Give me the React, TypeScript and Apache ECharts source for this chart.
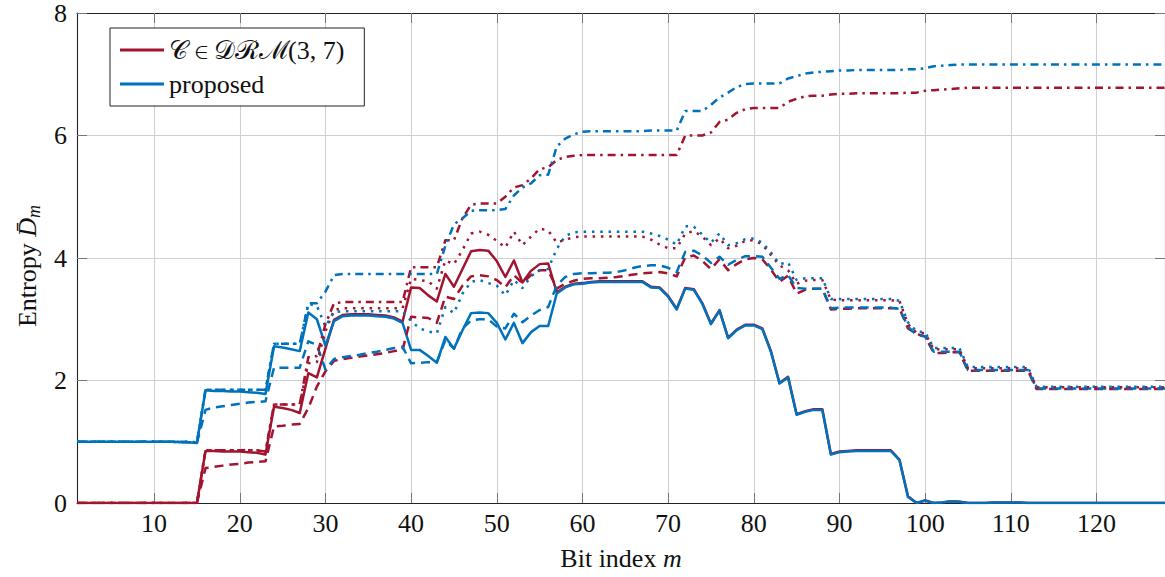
import React, { useEffect, useRef } from "react";
import * as echarts from "echarts";

// Bit index m = 1..128
const bitIndex: number[] = Array.from({ length: 128 }, (_, i) => i + 1);
const xTickValues = [10, 20, 30, 40, 50, 60, 70, 80, 90, 100, 110, 120];
const yMin = 0;
const yMax = 8;
const yStep = 2;

const RED_NAME = "𝒞 ∈ 𝒟ℛℳ(3, 7)";
const BLUE_NAME = "proposed";

// red solid
const redSolid = [
  0, 0, 0, 0, 0, 0, 0, 0, 0, 0, 0, 0, 0, 0, 0,
  0.85, 0.85, 0.84, 0.84, 0.84, 0.83, 0.82, 0.79,
  1.57, 1.55, 1.52, 1.47,
  2.12, 2.05, 2.52, 2.99,
  3.07, 3.08, 3.08, 3.08, 3.07, 3.06, 3.03, 2.96,
  3.52, 3.51, 3.39, 3.29,
  3.74, 3.53, 3.82, 4.11, 4.13, 4.12, 3.95,
  3.69, 3.96, 3.60, 3.79, 3.90, 3.91,
  3.44, 3.53, 3.58, 3.59, 3.61,
  3.62, 3.62, 3.62, 3.62, 3.62, 3.62,
  3.53, 3.52, 3.38, 3.17, 3.51, 3.49, 3.26, 2.93, 3.15, 2.70, 2.83, 2.91, 2.91, 2.85, 2.48, 1.96, 2.06, 1.45, 1.50, 1.53, 1.53, 0.80, 0.84, 0.85,
  0.86, 0.86, 0.86, 0.86, 0.86,
  0.71, 0.11, 0.0, 0.04, 0.0, 0.01, 0.03, 0.02, 0.0, 0.0, 0.0, 0.01, 0.01, 0.01, 0.01, 0.0,
  0, 0, 0, 0, 0, 0, 0, 0, 0, 0, 0, 0, 0, 0, 0, 0,
];

// blue solid (proposed)
const blueSolid = [
  1.0, 1.0, 1.0, 1.0, 1.0, 1.0, 1.0, 1.0, 1.0, 1.0, 1.0, 1.0, 0.99, 0.99, 0.98,
  1.84, 1.83, 1.83, 1.82, 1.82, 1.81, 1.80, 1.78,
  2.56, 2.54, 2.51, 2.48,
  3.11, 3.0, 2.57, 2.97,
  3.05, 3.06, 3.06, 3.06, 3.05, 3.04, 3.01, 2.94,
  2.50, 2.50, 2.40, 2.29,
  2.71, 2.52, 2.82, 3.10, 3.11, 3.10, 2.94,
  2.67, 2.94, 2.61, 2.79, 2.89, 2.89,
  3.42, 3.52, 3.57, 3.58, 3.60,
  3.61, 3.61, 3.61, 3.61, 3.61, 3.61,
  3.52, 3.51, 3.37, 3.16, 3.50, 3.48, 3.25, 2.92, 3.14, 2.69, 2.82, 2.90, 2.90, 2.84, 2.47, 1.95, 2.05, 1.44, 1.49, 1.52, 1.52, 0.79, 0.83, 0.84,
  0.85, 0.85, 0.85, 0.85, 0.85,
  0.70, 0.10, 0.0, 0.04, 0.0, 0.01, 0.03, 0.02, 0.0, 0.0, 0.0, 0.01, 0.01, 0.01, 0.01, 0.0,
  0, 0, 0, 0, 0, 0, 0, 0, 0, 0, 0, 0, 0, 0, 0, 0,
];

// red dashed
const redDashed = [
  0, 0, 0, 0, 0, 0, 0, 0, 0, 0, 0, 0, 0, 0, 0,
  0.57, 0.59, 0.61, 0.63, 0.64, 0.66, 0.67, 0.68,
  1.25, 1.26, 1.28, 1.29,
  1.55, 1.90, 2.15, 2.32,
  2.35, 2.37, 2.39, 2.41, 2.43, 2.45, 2.48, 2.50,
  3.04, 3.03, 3.02, 2.94,
  3.37, 3.33, 3.55, 3.70, 3.72, 3.70, 3.64,
  3.52, 3.72, 3.59, 3.72, 3.80, 3.80,
  3.50, 3.58, 3.63, 3.66, 3.67,
  3.67, 3.68, 3.69, 3.71, 3.73, 3.75,
  3.76, 3.77, 3.75, 3.70, 4.01, 4.04, 3.95, 3.82, 3.98, 3.80, 3.90, 3.98, 4.00, 3.98, 3.81, 3.61, 3.71, 3.42, 3.48, 3.50, 3.50, 3.16, 3.17, 3.17,
  3.18, 3.18, 3.18, 3.18, 3.18,
  3.18, 2.85, 2.76, 2.72, 2.45, 2.45, 2.46, 2.46, 2.16, 2.16, 2.16, 2.16, 2.16, 2.16, 2.16, 2.16,
  1.86, 1.86, 1.86, 1.86, 1.86, 1.86, 1.86, 1.86, 1.86, 1.86, 1.86, 1.86, 1.86, 1.86, 1.86, 1.86,
];

// blue dashed
const blueDashed = [
  1.0, 1.0, 1.0, 1.0, 1.0, 1.0, 1.0, 1.0, 1.0, 1.0, 1.0, 1.0, 0.99, 0.99, 0.98,
  1.52, 1.56, 1.58, 1.60, 1.62, 1.64, 1.65, 1.66,
  2.21, 2.21, 2.21, 2.21,
  2.64, 2.58, 2.18, 2.35,
  2.38, 2.40, 2.42, 2.45, 2.47, 2.50, 2.53, 2.55,
  2.28, 2.29, 2.30, 2.30,
  2.66, 2.52, 2.85, 2.98, 3.00, 3.00, 2.88,
  2.85, 3.09, 2.95, 3.06, 3.15, 3.20,
  3.55, 3.69, 3.74, 3.75, 3.75,
  3.76, 3.76, 3.77, 3.80, 3.84, 3.87,
  3.88, 3.88, 3.84, 3.77, 4.10, 4.12, 4.04, 3.92, 4.02, 3.89, 3.97, 4.03, 4.03, 4.02, 3.84, 3.66, 3.72, 3.51, 3.50, 3.50, 3.50, 3.18, 3.19, 3.19,
  3.19, 3.19, 3.19, 3.19, 3.19,
  3.17, 2.88, 2.74, 2.72, 2.47, 2.47, 2.47, 2.47, 2.17, 2.17, 2.17, 2.17, 2.17, 2.17, 2.17, 2.17,
  1.87, 1.87, 1.87, 1.87, 1.87, 1.87, 1.87, 1.87, 1.87, 1.87, 1.87, 1.87, 1.87, 1.87, 1.87, 1.87,
];

// red dotted
const redDotted = [
  0, 0, 0, 0, 0, 0, 0, 0, 0, 0, 0, 0, 0, 0, 0,
  0.86, 0.86, 0.86, 0.86, 0.86, 0.86, 0.86, 0.84,
  1.61, 1.61, 1.61, 1.61,
  2.28, 2.30, 2.80, 3.15,
  3.18, 3.18, 3.18, 3.18, 3.18, 3.18, 3.18, 3.18,
  3.66, 3.64, 3.62, 3.50,
  3.96, 3.90, 4.13, 4.40, 4.43, 4.38, 4.28,
  4.17, 4.43, 4.21, 4.35, 4.48, 4.45,
  4.25, 4.30, 4.34, 4.35, 4.35,
  4.35, 4.35, 4.35, 4.35, 4.35, 4.35,
  4.30, 4.22, 4.16, 4.16, 4.40, 4.44, 4.35, 4.21, 4.32, 4.16, 4.20, 4.28, 4.29, 4.22, 4.05, 3.88, 3.80, 3.58, 3.63, 3.64, 3.64, 3.32, 3.31, 3.31,
  3.31, 3.31, 3.31, 3.31, 3.31,
  3.30, 2.92, 2.78, 2.77, 2.51, 2.51, 2.51, 2.51, 2.20, 2.20, 2.20, 2.20, 2.20, 2.20, 2.20, 2.20,
  1.89, 1.89, 1.89, 1.89, 1.89, 1.89, 1.89, 1.89, 1.89, 1.89, 1.89, 1.89, 1.89, 1.89, 1.89, 1.89,
];

// blue dotted
const blueDotted = [
  1.0, 1.0, 1.0, 1.0, 1.0, 1.0, 1.0, 1.0, 1.0, 1.0, 1.0, 1.0, 1.0, 1.0, 0.99,
  1.85, 1.85, 1.85, 1.85, 1.85, 1.85, 1.85, 1.85,
  2.60, 2.60, 2.60, 2.60,
  3.25, 3.22, 2.88, 3.12,
  3.13, 3.13, 3.13, 3.13, 3.13, 3.13, 3.13, 3.13,
  2.97, 2.85, 2.80, 2.77,
  3.20, 3.10, 3.42, 3.61, 3.64, 3.59, 3.55,
  3.39, 3.64, 3.51, 3.70, 3.80, 3.82,
  4.15, 4.36, 4.42, 4.43, 4.43,
  4.43, 4.43, 4.43, 4.43, 4.43, 4.43,
  4.40, 4.36, 4.30, 4.22, 4.52, 4.51, 4.38, 4.25, 4.40, 4.21, 4.24, 4.31, 4.32, 4.25, 4.09, 3.90, 3.93, 3.64, 3.67, 3.67, 3.67, 3.33, 3.33, 3.33,
  3.33, 3.33, 3.33, 3.33, 3.33,
  3.30, 2.95, 2.80, 2.79, 2.53, 2.53, 2.53, 2.53, 2.22, 2.22, 2.22, 2.22, 2.22, 2.22, 2.22, 2.22,
  1.90, 1.90, 1.90, 1.90, 1.90, 1.90, 1.90, 1.90, 1.90, 1.90, 1.90, 1.90, 1.90, 1.90, 1.90, 1.90,
];

// red dash-dotted
const redDashDot = [
  0, 0, 0, 0, 0, 0, 0, 0, 0, 0, 0, 0, 0, 0, 0,
  0.86, 0.86, 0.86, 0.86, 0.86, 0.86, 0.86, 0.84,
  1.61, 1.61, 1.61, 1.61,
  2.38, 2.40, 2.92, 3.26,
  3.28, 3.28, 3.28, 3.28, 3.28, 3.28, 3.28, 3.28,
  3.85, 3.85, 3.85, 3.85,
  4.29, 4.29, 4.65, 4.87, 4.89, 4.89, 4.89,
  5.00, 5.15, 5.19, 5.30, 5.45, 5.48,
  5.60, 5.65, 5.67, 5.68, 5.68,
  5.68, 5.68, 5.68, 5.68, 5.68, 5.68,
  5.68, 5.68, 5.68, 5.68, 6.00, 6.00, 6.00, 6.05, 6.22, 6.26, 6.37, 6.43, 6.45, 6.45, 6.45, 6.45, 6.55, 6.60, 6.64, 6.65, 6.65, 6.67, 6.68, 6.68,
  6.69, 6.69, 6.69, 6.69, 6.69,
  6.69, 6.70, 6.70, 6.73, 6.74, 6.75, 6.76, 6.77, 6.78, 6.78, 6.78, 6.78, 6.78, 6.78, 6.78, 6.78,
  6.78, 6.78, 6.78, 6.78, 6.78, 6.78, 6.78, 6.78, 6.78, 6.78, 6.78, 6.78, 6.78, 6.78, 6.78, 6.78,
];

// blue dash-dotted
const blueDashDot = [
  1.0, 1.0, 1.0, 1.0, 1.0, 1.0, 1.0, 1.0, 1.0, 1.0, 1.0, 1.0, 1.0, 1.0, 0.99,
  1.85, 1.85, 1.85, 1.85, 1.85, 1.85, 1.85, 1.85,
  2.60, 2.60, 2.60, 2.60,
  3.26, 3.26, 3.45, 3.72,
  3.74, 3.74, 3.74, 3.74, 3.74, 3.74, 3.74, 3.74,
  3.74, 3.74, 3.74, 3.74,
  4.20, 4.55, 4.65, 4.77, 4.78, 4.78, 4.78,
  4.80, 5.02, 5.15, 5.22, 5.35, 5.36,
  5.82, 5.95, 6.02, 6.06, 6.07,
  6.07, 6.07, 6.07, 6.07, 6.07, 6.07,
  6.08, 6.08, 6.08, 6.08, 6.40, 6.40, 6.40, 6.50, 6.62, 6.70, 6.79, 6.84, 6.85, 6.85, 6.85, 6.85, 6.93, 6.97, 7.01, 7.03, 7.04, 7.05, 7.06, 7.06,
  7.07, 7.07, 7.07, 7.07, 7.07,
  7.07, 7.08, 7.08, 7.10, 7.13, 7.14, 7.15, 7.16, 7.16, 7.16, 7.16, 7.16, 7.16, 7.16, 7.16, 7.16,
  7.16, 7.16, 7.16, 7.16, 7.16, 7.16, 7.16, 7.16, 7.16, 7.16, 7.16, 7.16, 7.16, 7.16, 7.16, 7.16,
];

const RED = "#A2142F";
const BLUE = "#0072BD";
const SERIF = "Liberation Serif";
const DASHED = [9, 6];
const DOTTED = [2.5, 5.8];
const DASHDOT = [8, 5, 2.5, 5];

type Spec = { name: string; values: number[]; color: string; dash: number[] | "solid" };

const specs: Spec[] = [
  { name: RED_NAME, values: redSolid, color: RED, dash: "solid" },
  { name: BLUE_NAME, values: blueSolid, color: BLUE, dash: "solid" },
  { name: "red dashed", values: redDashed, color: RED, dash: DASHED },
  { name: "blue dashed", values: blueDashed, color: BLUE, dash: DASHED },
  { name: "red dotted", values: redDotted, color: RED, dash: DOTTED },
  { name: "blue dotted", values: blueDotted, color: BLUE, dash: DOTTED },
  { name: "red dash-dot", values: redDashDot, color: RED, dash: DASHDOT },
  { name: "blue dash-dot", values: blueDashDot, color: BLUE, dash: DASHDOT },
];

export default function App() {
  const ref = useRef<HTMLDivElement>(null);
  useEffect(() => {
    if (!ref.current) return;
    const chart = echarts.init(ref.current, undefined, { renderer: "svg" });
    const axisLine = { show: true, onZero: false, lineStyle: { color: "#222", width: 1.1 } };
    const tickStyle = { color: "#777", width: 1 };
    const gridLine = { show: true, lineStyle: { color: "#d0d0d0", width: 1.1 } };
    chart.setOption({
      animation: false,
      backgroundColor: "#fff",
      textStyle: { fontFamily: SERIF },
      grid: { left: 77, right: 0, top: 13, bottom: 74, containLabel: false },
      legend: {
        orient: "vertical",
        left: 110,
        top: 28,
        data: [RED_NAME, BLUE_NAME],
        icon: "rect",
        itemWidth: 44,
        itemHeight: 3,
        itemGap: 8,
        padding: [9, 10, 9, 10],
        borderColor: "#222",
        borderWidth: 1,
        borderRadius: 0,
        backgroundColor: "#fff",
        selectedMode: false,
        textStyle: { fontFamily: SERIF, fontSize: 26, color: "#111", lineHeight: 26 },
      },
      xAxis: [
        {
          type: "value",
          min: 1,
          max: 128,
          position: "bottom",
          axisLine,
          axisTick: { show: true, inside: true, length: 10, customValues: xTickValues, lineStyle: tickStyle },
          axisLabel: { customValues: xTickValues, fontFamily: SERIF, fontSize: 26, color: "#111", margin: 7 },
          splitLine: gridLine,
          name: "{a|Bit index }{i|m}",
          nameLocation: "middle",
          nameGap: 42,
          nameTextStyle: {
            fontFamily: SERIF,
            rich: {
              a: { fontFamily: SERIF, fontSize: 26, color: "#111" },
              i: { fontFamily: SERIF, fontSize: 26, fontStyle: "italic", color: "#111" },
            },
          },
        },
        {
          type: "value",
          min: 1,
          max: 128,
          position: "top",
          axisLine,
          axisTick: { show: true, inside: true, length: 10, customValues: xTickValues, lineStyle: tickStyle },
          axisLabel: { show: false },
          splitLine: { show: false },
        },
      ],
      yAxis: [
        {
          type: "value",
          min: yMin,
          max: yMax,
          interval: yStep,
          axisLine,
          axisTick: { show: true, inside: true, length: 10, lineStyle: tickStyle },
          axisLabel: { fontFamily: SERIF, fontSize: 26, color: "#111", margin: 10 },
          splitLine: gridLine,
          name: "{a|Entropy }{d|D̄}{s|m}",
          nameLocation: "middle",
          nameGap: 34,
          nameTextStyle: {
            fontFamily: SERIF,
            padding: [0, 16, 0, 0],
            rich: {
              a: { fontFamily: SERIF, fontSize: 26, color: "#111" },
              d: { fontFamily: SERIF, fontSize: 26, fontStyle: "italic", color: "#111" },
              s: { fontFamily: SERIF, fontSize: 18, fontStyle: "italic", color: "#111", padding: [14, 0, 0, 0] },
            },
          },
        },
        {
          type: "value",
          min: yMin,
          max: yMax,
          interval: yStep,
          position: "right",
          axisLine,
          axisTick: { show: true, inside: true, length: 10, lineStyle: tickStyle },
          axisLabel: { show: false },
          splitLine: { show: false },
        },
      ],
      series: specs.map((s) => ({
        name: s.name,
        type: "line",
        xAxisIndex: 0,
        yAxisIndex: 0,
        data: s.values.map((v, i) => [bitIndex[i], v]),
        showSymbol: false,
        symbol: "none",
        color: s.color,
        lineStyle: { color: s.color, width: 2.5, type: s.dash, join: "round", cap: "butt" },
        emphasis: { disabled: true },
      })),
    });
    return () => chart.dispose();
  }, []);
  return (
    <div
      ref={ref}
      style={{ position: "fixed", left: 0, top: 0, width: 1165, height: 577, background: "#fff" }}
    />
  );
}
